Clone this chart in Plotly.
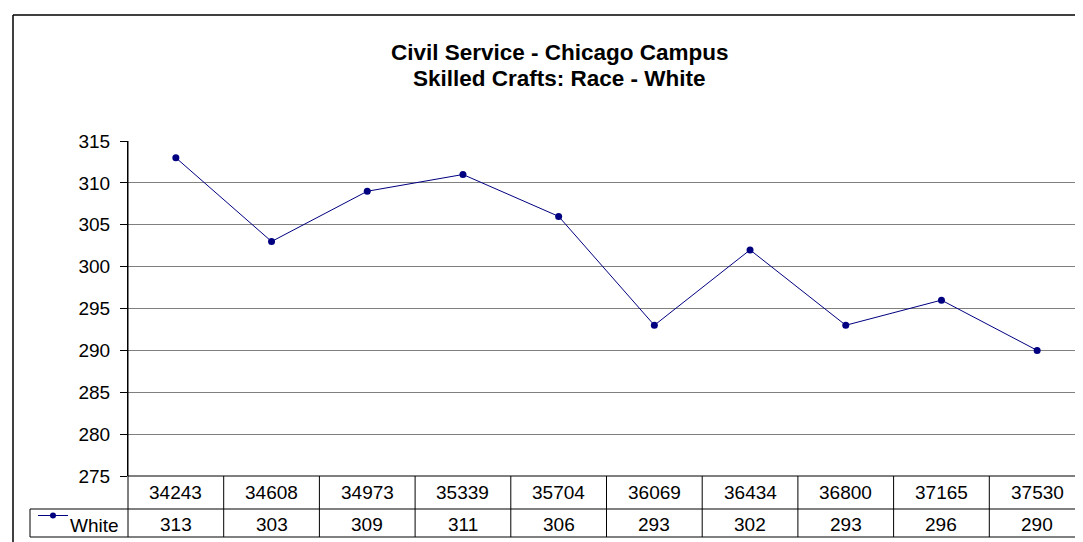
import plotly.graph_objects as go

# ---- data ----
categories = ["34243", "34608", "34973", "35339", "35704", "36069", "36434", "36800", "37165", "37530"]
white = [313, 303, 309, 311, 306, 293, 302, 293, 296, 290]
series_name = "White"
title_lines = ["Civil Service - Chicago Campus", "Skilled Crafts: Race - White"]
y_ticks = [275, 280, 285, 290, 295, 300, 305, 310, 315]

# ---- geometry (pixels) ----
W, H = 1083, 542
L, R, T, B = 120, 1077, 133, 468
def xp(px):
    return (px - L) / (R - L)
def yp(py):
    return (B - py) / (B - T)

FONT = "Arial, Liberation Sans, sans-serif"
NAVY = "#000080"
n = len(categories)

fig = go.Figure()
fig.add_trace(go.Scatter(
    x=categories, y=white, mode="lines+markers", name=series_name,
    line=dict(color=NAVY, width=1),
    marker=dict(color=NAVY, size=7, symbol="circle"),
    showlegend=False, cliponaxis=False,
))

shapes = []
annotations = []

# table lines
row1_top, row1_bot, row2_bot = B, 501, 529
line_dark = dict(color="#000000", width=1)
shapes.append(dict(type="line", xref="paper", yref="paper", x0=0, x1=1, y0=yp(row1_top), y1=yp(row1_top), line=line_dark))
shapes.append(dict(type="line", xref="paper", yref="paper", x0=xp(22), x1=1, y0=yp(row1_bot), y1=yp(row1_bot), line=line_dark))
shapes.append(dict(type="line", xref="paper", yref="paper", x0=xp(22), x1=1, y0=yp(row2_bot), y1=yp(row2_bot), line=line_dark))
shapes.append(dict(type="line", xref="paper", yref="paper", x0=0, x1=0, y0=1, y1=yp(row2_bot), line=line_dark))
shapes.append(dict(type="line", xref="paper", yref="paper", x0=xp(22), x1=xp(22), y0=yp(row1_bot), y1=yp(row2_bot), line=line_dark))
for i in range(1, n + 1):
    xv = i - 0.5
    shapes.append(dict(type="line", xref="x", yref="paper", x0=xv, x1=xv, y0=yp(row1_top), y1=yp(row2_bot), line=line_dark))

# outer chart border (left and top)
border = dict(color="#000000", width=1.5)
shapes.append(dict(type="line", xref="paper", yref="paper", x0=xp(5), x1=xp(1100), y0=yp(7), y1=yp(7), line=border))
shapes.append(dict(type="line", xref="paper", yref="paper", x0=xp(5), x1=xp(5), y0=yp(7), y1=yp(560), line=border))

# legend key inside table
shapes.append(dict(type="line", xref="paper", yref="paper", x0=xp(30), x1=xp(60), y0=yp(507.5), y1=yp(507.5), line=dict(color=NAVY, width=1)))
shapes.append(dict(type="circle", xref="paper", yref="paper", x0=xp(42), x1=xp(48), y0=yp(504.5), y1=yp(510.5), fillcolor=NAVY, line=dict(color=NAVY, width=0)))
annotations.append(dict(text=series_name, xref="paper", yref="paper", x=xp(60), y=yp(517.5), xanchor="left", yanchor="middle",
                        showarrow=False, font=dict(family=FONT, size=19, color="#000000")))

# table texts
for i, (c, v) in enumerate(zip(categories, white)):
    annotations.append(dict(text=c, xref="x", yref="paper", x=i, y=yp(484.5), xanchor="center", yanchor="middle",
                            showarrow=False, font=dict(family=FONT, size=19, color="#000000")))
    annotations.append(dict(text=str(v), xref="x", yref="paper", x=i, y=yp(516.5), xanchor="center", yanchor="middle",
                            showarrow=False, font=dict(family=FONT, size=19, color="#000000")))

# title
for i, t in enumerate(title_lines):
    annotations.append(dict(text=f"<b>{t}</b>", xref="paper", yref="paper", x=xp(551.5), y=yp(45 + 25.5 * i),
                            xanchor="center", yanchor="middle", showarrow=False,
                            font=dict(family=FONT, size=22.5, color="#000000")))

fig.update_layout(
    width=W, height=H,
    margin=dict(l=L, r=W - R, t=T, b=H - B, pad=0),
    paper_bgcolor="#ffffff", plot_bgcolor="#ffffff",
    shapes=shapes, annotations=annotations,
    xaxis=dict(type="category", categoryarray=categories, range=[-0.5, n - 0.5],
               showticklabels=False, showgrid=False, zeroline=False, showline=False, ticks=""),
    yaxis=dict(range=[275, 315], tickvals=y_ticks, ticktext=[str(v) for v in y_ticks],
               showgrid=True, gridcolor="#808080", gridwidth=1, zeroline=False,
               showline=True, linecolor="#000000", linewidth=1,
               ticks="outside", ticklen=7, tickcolor="#000000", tickwidth=1,
               ticklabelstandoff=6,
               tickfont=dict(family=FONT, size=19, color="#000000")),
    font=dict(family=FONT),
)

fig.write_html("out.html")
